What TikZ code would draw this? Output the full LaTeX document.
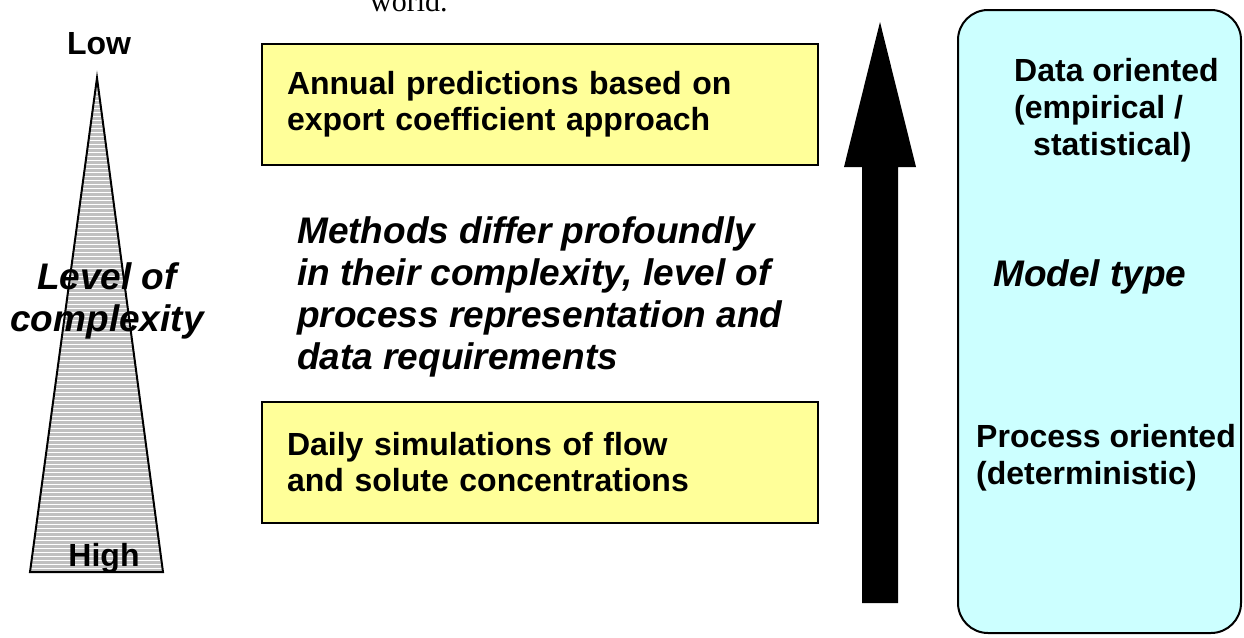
\documentclass[tikz,border=0pt]{standalone}
\usepackage{fontspec}
\setmainfont{Liberation Sans}
\newfontfamily\worldfont{Liberation Serif}
\usetikzlibrary{positioning}
\definecolor{boxyellow}{HTML}{FFFF99}
\definecolor{modelcyan}{HTML}{CCFFFF}
\definecolor{wedgegray}{HTML}{C0C0C0}

\begin{document}
\begin{tikzpicture}[x=1pt,y=-1pt,
    lbl/.style={inner sep=0pt,font=\fontsize{32}{37}\selectfont\bfseries},
    big/.style={inner sep=0pt,font=\fontsize{37}{42}\selectfont\bfseries\itshape},
    predbox/.style={draw,line width=2pt,fill=boxyellow,text width=506pt,inner xsep=25pt,
      minimum height=121pt,align=left,font=\fontsize{32}{36}\selectfont\bfseries},
    typebox/.style={draw,line width=2pt,fill=modelcyan,rounded corners=30pt,
      minimum width=283pt,minimum height=623pt}]
        \useasboundingbox (0,0) rectangle (1244,637);

        \node[anchor=base west,inner sep=0pt,font=\worldfont\fontsize{30}{36}\selectfont] (world) at (370,12) {world.};

        \coordinate (apex) at (97,78);
        \coordinate (bl) at (30,572);
        \coordinate (br) at (163,572);
        \begin{scope}
          \clip (apex) -- (br) -- (bl) -- cycle;
          \fill[wedgegray] (20,70) rectangle (180,580);
          \foreach \y in {80,84,...,572}
            \draw[white,line width=0.9pt] (20,\y) -- (180,\y);
        \end{scope}
        \draw[line width=2pt,line join=miter] (apex) -- (br) -- (bl) -- cycle;
        \node[lbl] (low) at (99,44) {Low};
        \node[lbl] (high) at (104,558) {High};
        \node[big,align=center] (level) at (107,301) {Level of\\complexity};

        \node[predbox] (annual) at (540,104.5) {Annual predictions based on\\export coefficient approach};
        \node[predbox] (daily) at (540,462) {Daily simulations of flow\\and solute concentrations};
        \node[big,anchor=west,align=left] (methods) at (297,297) {Methods differ profoundly\\in their complexity, level of\\process representation and\\data requirements};

        \fill (862,603) -- (862,167) -- (844,167) -- (880,22) -- (916,167) -- (898,167) -- (898,603) -- cycle;

        \node[typebox] (types) at (1099.5,321.5) {};
        \node[lbl,anchor=west,align=left] (dataor) at (1014,110) {Data oriented\\(empirical /\\\hspace*{19pt}statistical)};
        \node[big,anchor=west] (mtype) at (993,277) {Model type};
        \node[lbl,anchor=west,align=left] (procor) at (976,458) {Process oriented\\(deterministic)};
      \end{tikzpicture}
\end{document}
